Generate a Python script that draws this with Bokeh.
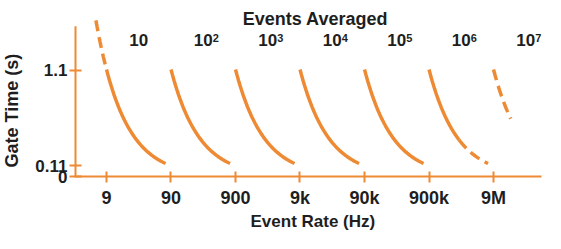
import math
import numpy as np
from bokeh.plotting import figure
from bokeh.models import (Range1d, FixedTicker, CustomJSTickFormatter, Label,
                          LabelSet, ColumnDataSource, Title)
from bokeh.embed import file_html
from bokeh.resources import INLINE
from bokeh.core.properties import value

# ---------------- data ----------------
events = [1e1, 1e2, 1e3, 1e4, 1e5, 1e6, 1e7]
event_base = ["10", "10", "10", "10", "10", "10", "10"]
event_exp = ["", "2", "3", "4", "5", "6", "7"]

# solid part of each curve (gate time in s, top and bottom)
solid_events = [1e1, 1e2, 1e3, 1e4, 1e5, 1e6]
solid_gate_top = [1.11, 1.11, 1.11, 1.11, 1.11, 1.11]
solid_gate_bottom = [0.135, 0.135, 0.135, 0.135, 0.135, 0.38]

# dashed extensions
dash_events = [1e1, 1e6, 1e7]
dash_gate_top = [1.62, 0.38, 1.11]
dash_gate_bottom = [1.11, 0.135, 0.6]

rate_ticks = [9, 90, 900, 9e3, 9e4, 9e5, 9e6]
rate_tick_labels = ["9", "90", "900", "9k", "90k", "900k", "9M"]
gate_ticks = [0, 0.11, 1.1]
gate_tick_labels = ["0", "0.11", "1.1"]

# ---------------- style ----------------
ORANGE = "#EE8A33"
TEXT = "#1e1e1e"
FONT = "Liberation Sans"

X_START, X_END = 2.874, 4.99e7
Y_END = 1.826
Y_AXIS_TOP = 1.56

p = figure(width=545, height=233, x_axis_type="log",
           x_range=Range1d(X_START, X_END), y_range=Range1d(0, Y_END),
           output_backend="svg", toolbar_location=None,
           min_border_left=74, min_border_right=4,
           min_border_top=0, min_border_bottom=57)
p.outline_line_color = None
p.xgrid.visible = False
p.ygrid.visible = False
p.background_fill_color = "white"

def curve(n, g_top, g_bot, npts=40):
    r = np.geomspace(n / g_top, n / g_bot, npts)
    return r, n / r

for n, gt, gb in zip(solid_events, solid_gate_top, solid_gate_bottom):
    xs, ys = curve(n, gt, gb)
    p.line(xs, ys, line_color=ORANGE, line_width=3.5)

for n, gt, gb in zip(dash_events, dash_gate_top, dash_gate_bottom):
    xs, ys = curve(n, gt, gb)
    p.line(xs, ys, line_color=ORANGE, line_width=3.5, line_dash="11 6")

# y axis line (shorter than frame)
p.segment(x0=[X_START], y0=[0], x1=[X_START], y1=[Y_AXIS_TOP],
          line_color=ORANGE, line_width=4)

# x axis
xa = p.xaxis[0]
xa.ticker = FixedTicker(ticks=rate_ticks, minor_ticks=[])
xa.formatter = CustomJSTickFormatter(
    args=dict(vals=rate_ticks, labs=rate_tick_labels),
    code="""for (let i = 0; i < vals.length; i++) {
  if (Math.abs(tick - vals[i]) / vals[i] < 1e-6) return labs[i];
} return '';""")
xa.axis_line_color = ORANGE
xa.axis_line_width = 2
xa.major_tick_line_color = ORANGE
xa.major_tick_line_width = 2
xa.major_tick_in = 5
xa.major_tick_out = 6
xa.minor_tick_line_color = None
xa.major_label_text_font = FONT
xa.major_label_text_font_style = "bold"
xa.major_label_text_font_size = "18px"
xa.major_label_text_color = TEXT
xa.major_label_standoff = 5

ya = p.yaxis[0]
ya.ticker = FixedTicker(ticks=gate_ticks, minor_ticks=[])
ya.formatter = CustomJSTickFormatter(
    args=dict(vals=gate_ticks, labs=gate_tick_labels),
    code="""for (let i = 0; i < vals.length; i++) {
  if (Math.abs(tick - vals[i]) < 1e-6) return labs[i];
} return '';""")
ya.axis_line_color = None
ya.major_tick_line_color = ORANGE
ya.major_tick_line_width = 2
ya.major_tick_in = 7
ya.major_tick_out = 5
ya.minor_tick_line_color = None
ya.major_label_text_font = FONT
ya.major_label_text_font_style = "bold"
ya.major_label_text_font_size = "17px"
ya.major_label_text_color = TEXT
ya.major_label_standoff = 2
# blank spacer label to widen the axis panel
ya.axis_label = " "
ya.axis_label_text_font_size = "7px"
ya.axis_label_standoff = 0

# event-count labels, centred on each curve's decade
label_rate = [n * 0.9 * math.sqrt(10) for n in events]
src = ColumnDataSource(dict(x=label_rate, y=[1.349] * len(events),
                            base=event_base, exp=event_exp))
p.add_layout(LabelSet(x="x", y="y", text="base", source=src,
                      text_align="center", text_baseline="alphabetic",
                      text_font=value(FONT), text_font_style="bold",
                      text_font_size="17px", text_color=TEXT))
p.add_layout(LabelSet(x="x", y="y", text="exp", source=src,
                      x_offset=9.5, y_offset=4,
                      text_align="left", text_baseline="alphabetic",
                      text_font=value(FONT), text_font_style="bold",
                      text_font_size="11px", text_color=TEXT))

# titles
p.add_layout(Label(x=1.56e4, y=1.629, text="Events Averaged",
                   text_align="center", text_baseline="alphabetic",
                   text_font=FONT, text_font_style="bold",
                   text_font_size="18px", text_color=TEXT))
p.add_layout(Title(text="Event Rate (Hz)", align="left", offset=176,
                   standoff=0, vertical_align="middle",
                   text_font=FONT, text_font_style="bold",
                   text_font_size="17px", text_color=TEXT), "below")
p.add_layout(Title(text="Gate Time (s)", align="left", offset=9,
                   standoff=0, vertical_align="middle",
                   text_font=FONT, text_font_style="bold",
                   text_font_size="18px", text_color=TEXT), "left")

open("out.html", "w").write(file_html(p, INLINE))
